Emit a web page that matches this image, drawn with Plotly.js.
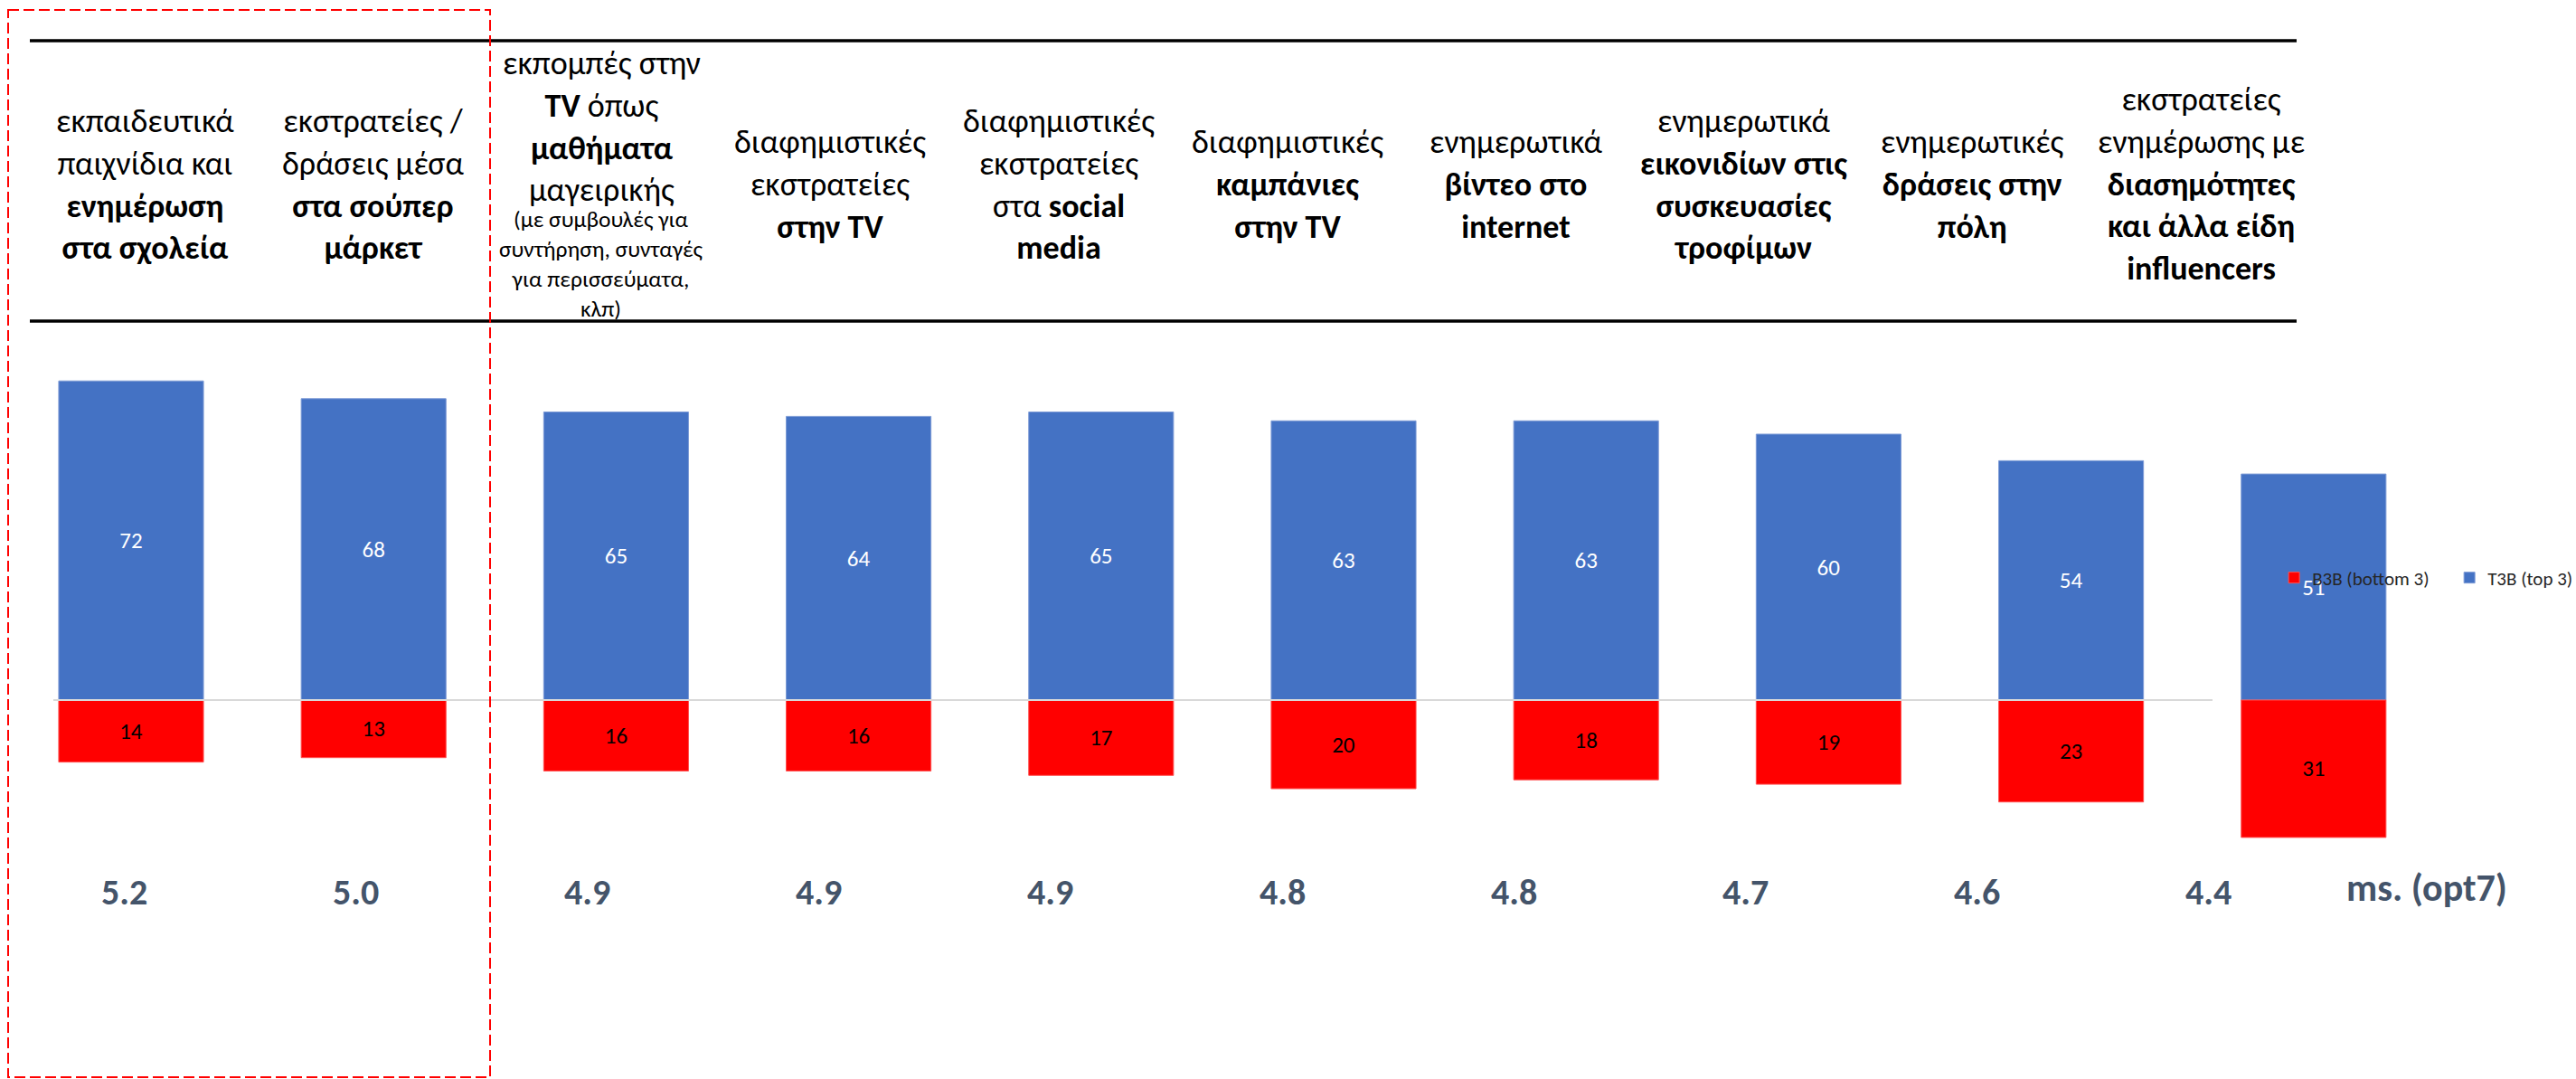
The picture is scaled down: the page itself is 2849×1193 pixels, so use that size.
<!DOCTYPE html>
<html>
<head>
<meta charset="utf-8">
<script src="https://cdn.plot.ly/plotly-3.0.1.min.js"></script>
<style>
html, body { margin: 0; padding: 0; background: #ffffff; overflow: hidden; }
#chart { width: 2849px; height: 1193px; }
</style>
</head>
<body>
<div id="chart"></div>
<script>
// ---- data ----
const categories = [
  "εκπαιδευτικά<br>παιχνίδια και<br><b>ενημέρωση</b><br><b>στα σχολεία</b>",
  "εκστρατείες /<br>δράσεις μέσα<br><b>στα σούπερ</b><br><b>μάρκετ</b>",
  "εκπομπές στην<br><b>TV</b> όπως<br><b>μαθήματα</b><br>μαγειρικής",
  "διαφημιστικές<br>εκστρατείες<br><b>στην TV</b>",
  "διαφημιστικές<br>εκστρατείες<br>στα <b>social</b><br><b>media</b>",
  "διαφημιστικές<br><b>καμπάνιες</b><br><b>στην TV</b>",
  "ενημερωτικά<br><b>βίντεο στο</b><br><b>internet</b>",
  "ενημερωτικά<br><b>εικονιδίων στις</b><br><b>συσκευασίες</b><br><b>τροφίμων</b>",
  "ενημερωτικές<br><b>δράσεις στην</b><br><b>πόλη</b>",
  "εκστρατείες<br>ενημέρωσης με<br><b>διασημότητες</b><br><b>και άλλα είδη</b><br><b>influencers</b>"
];
const categoryNotes = ["", "", "(με συμβουλές για<br>συντήρηση, συνταγές<br>για περισσεύματα,<br>κλπ)", "", "", "", "", "", "", ""];
const t3b = [72, 68, 65, 64, 65, 63, 63, 60, 54, 51];
const b3b = [14, 13, 16, 16, 17, 20, 18, 19, 23, 31];
const means = [5.2, 5.0, 4.9, 4.9, 4.9, 4.8, 4.8, 4.7, 4.6, 4.4];
const meanLabel = "ms. (opt7)";
const seriesNames = ["T3B (top 3)", "B3B (bottom 3)"];

// ---- style ----
const FONT = "Carlito, 'Liberation Sans Narrow', 'Open Sans', sans-serif";
const BLUE = "#4472C4";
const RED = "#FF0000";
const MEAN_COLOR = "#44546A";

const W = 2849, H = 1193;
const px = v => v / W;          // paper x from pixel
const py = v => 1 - v / H;      // paper y from pixel

// text grids (header table columns and mean-score row are laid out on their own grids)
const LABEL_X0 = 160, LABEL_DX = 252.7;
const MEAN_X0 = 137, MEAN_DX = 256.2;

const traces = [
  {
    type: "bar",
    name: seriesNames[0],
    x: categories,
    y: t3b,
    text: t3b.map(String),
    textposition: "inside",
    insidetextanchor: "middle",
    textangle: 0,
    textfont: { family: FONT, size: 25, color: "#ffffff" },
    marker: { color: BLUE, line: { color: "#7d9bd6", width: 1 } },
    hoverinfo: "y+name"
  },
  {
    type: "bar",
    name: seriesNames[1],
    x: categories,
    y: b3b.map(v => -v),
    text: b3b.map(String),
    textposition: "inside",
    insidetextanchor: "middle",
    textangle: 0,
    textfont: { family: FONT, size: 25, color: "#000000" },
    marker: { color: RED, line: { color: "#ff5050", width: 1 } },
    hoverinfo: "text+name"
  }
];

const annotations = [];
categories.forEach((c, i) => {
  const lx = px(LABEL_X0 + LABEL_DX * i);
  if (categoryNotes[i]) {
    annotations.push({
      x: lx, xref: "paper", y: py(140), yref: "paper",
      text: c, showarrow: false, xanchor: "center", yanchor: "middle",
      align: "center", font: { family: FONT, size: 36, color: "#000000" }
    });
    annotations.push({
      x: lx, xref: "paper", y: py(292), yref: "paper",
      text: categoryNotes[i], showarrow: false, xanchor: "center", yanchor: "middle",
      align: "center", font: { family: FONT, size: 25.5, color: "#000000" }
    });
  } else {
    annotations.push({
      x: lx, xref: "paper", y: py(204), yref: "paper",
      text: c, showarrow: false, xanchor: "center", yanchor: "middle",
      align: "center", font: { family: FONT, size: 36, color: "#000000" }
    });
  }
});
means.forEach((m, i) => {
  annotations.push({
    x: px(MEAN_X0 + MEAN_DX * i), xref: "paper", y: py(987), yref: "paper",
    text: "<b>" + m.toFixed(1) + "</b>", showarrow: false,
    xanchor: "center", yanchor: "middle",
    font: { family: FONT, size: 40, color: MEAN_COLOR }
  });
});
annotations.push({
  x: px(2593), xref: "paper", y: py(981), yref: "paper",
  text: "<b>" + meanLabel + "</b>", showarrow: false,
  xanchor: "left", yanchor: "middle",
  font: { family: FONT, size: 42, color: MEAN_COLOR }
});

const shapes = [
  // header rules
  { type: "line", xref: "paper", yref: "paper", x0: px(33), x1: px(2540), y0: py(45), y1: py(45),
    line: { color: "#000000", width: 3.5 } },
  { type: "line", xref: "paper", yref: "paper", x0: px(33), x1: px(2540), y0: py(355), y1: py(355),
    line: { color: "#000000", width: 3.5 } },
  // zero line
  { type: "line", xref: "paper", yref: "y", x0: px(59), x1: px(2447), y0: 0, y1: 0,
    line: { color: "#d9d9d9", width: 2 }, layer: "above" },
  // dashed highlight box
  { type: "rect", xref: "paper", yref: "paper", x0: px(9), x1: px(542), y0: py(11), y1: py(1191),
    line: { color: RED, width: 2, dash: "12px,5px" }, fillcolor: "rgba(0,0,0,0)" }
];

const layout = {
  width: W, height: H,
  margin: { l: 0, r: 0, t: 0, b: 0, pad: 0, autoexpand: false },
  paper_bgcolor: "#ffffff", plot_bgcolor: "#ffffff",
  font: { family: FONT, color: "#000000" },
  barmode: "relative",
  bargap: 0.403,
  xaxis: {
    type: "category", range: [-0.5406, 10.082], automargin: false,
    showticklabels: false, showgrid: false, zeroline: false, showline: false, ticks: "", fixedrange: true
  },
  yaxis: {
    range: [-85.51, 157.96], visible: false, automargin: false,
    showgrid: false, zeroline: false, fixedrange: true
  },
  showlegend: true,
  legend: {
    orientation: "h", traceorder: "reversed",
    x: 1.0197, xanchor: "right", y: py(639), yanchor: "middle",
    bgcolor: "rgba(0,0,0,0)", borderwidth: 0,
    font: { family: FONT, size: 21, color: "#262626" },
    itemwidth: 30, entrywidth: 149
  },
  annotations: annotations,
  shapes: shapes
};

Plotly.newPlot("chart", traces, layout, { staticPlot: true, displayModeBar: false });
</script>
</body>
</html>
